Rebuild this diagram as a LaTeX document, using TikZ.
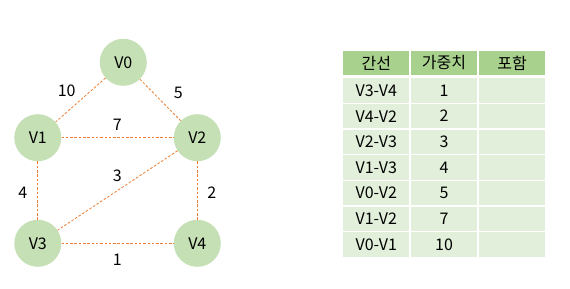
\documentclass[tikz,border=0pt]{standalone}
\usepackage{fontspec}
\setmainfont{Noto Sans CJK KR}
\definecolor{nodegreen}{HTML}{C5E0B4}
\definecolor{headgreen}{HTML}{A9D18E}
\definecolor{bodygreen}{HTML}{E2EFDA}
\definecolor{edgeorange}{HTML}{ED7D31}
\begin{document}
\begin{tikzpicture}[x=1pt,y=-1pt,
  vertex/.style={circle,fill=nodegreen,minimum size=47pt,inner sep=0pt,font=\fontsize{16}{17}\selectfont},
  edge/.style={draw=edgeorange,line width=0.8pt,dash pattern=on 2.5pt off 1.8pt},
  wlabel/.style={inner sep=0pt,font=\fontsize{16}{17}\selectfont},
  headcell/.style={fill=headgreen,minimum width=66.3pt,minimum height=24pt,inner sep=0pt,font=\fontsize{16}{17}\selectfont},
  bodycell/.style={fill=bodygreen,minimum width=66.3pt,minimum height=24.6pt,inner sep=0pt,font=\fontsize{16}{17}\selectfont}]
\useasboundingbox (0,0) rectangle (570,289);
\fill[white] (0,0) rectangle (570,289);
% vertices
\node[vertex] (v0) at (123.3,62.3) {V0};
\node[vertex] (v1) at (37.8,137.7) {V1};
\node[vertex] (v2) at (197.3,137.7) {V2};
\node[vertex] (v3) at (37.8,243.3) {V3};
\node[vertex] (v4) at (197.3,243.3) {V4};
% edges
\draw[edge] (v0) -- (v1);
\draw[edge] (v0) -- (v2);
\draw[edge] (v1) -- (v2);
\draw[edge] (v2) -- (v3);
\draw[edge] (v1) -- (v3);
\draw[edge] (v2) -- (v4);
\draw[edge] (v3) -- (v4);
% weights
\node[wlabel] (w01) at (66.7,91) {10};
\node[wlabel] (w02) at (178.3,93.3) {5};
\node[wlabel] (w12) at (117.3,125) {7};
\node[wlabel] (w23) at (117.3,176) {3};
\node[wlabel] (w13) at (22.7,192.3) {4};
\node[wlabel] (w24) at (211.7,192.3) {2};
\node[wlabel] (w34) at (117.3,260) {1};
% table header
\node[headcell] (h1) at (376.3,63) {간선};
\node[headcell] (h2) at (444,63) {가중치};
\node[headcell] (h3) at (512,63) {포함};
% table body
\foreach \e/\w [count=\i from 0] in {V3-V4/1,V4-V2/2,V2-V3/3,V1-V3/4,V0-V2/5,V1-V2/7,V0-V1/10}{
  \node[bodycell] (a\i) at (376.3,{90.5+25.66*\i}) {\e};
  \node[bodycell] (b\i) at (444,{90.5+25.66*\i}) {\w};
  \node[bodycell] (c\i) at (512,{90.5+25.66*\i}) {};
}
\end{tikzpicture}
\end{document}
